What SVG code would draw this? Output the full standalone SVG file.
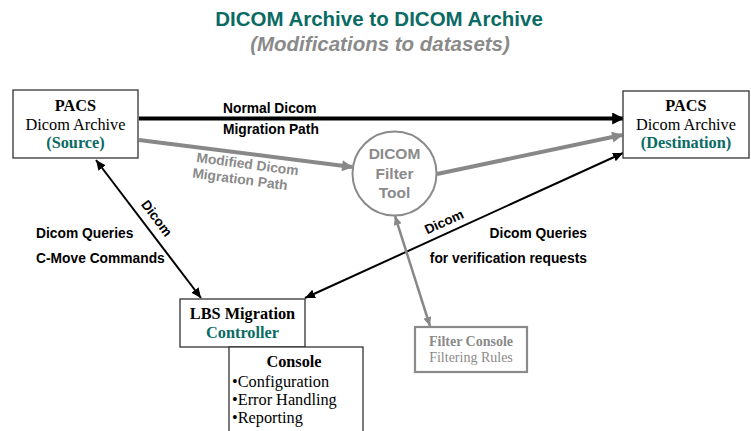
<svg xmlns="http://www.w3.org/2000/svg" width="751" height="431" viewBox="0 0 751 431">
<style>
.box{fill:#fff;stroke:#333;stroke-width:1.3}
.tnr{font-family:"Liberation Serif",serif;text-anchor:middle}
.b{font-weight:bold}
.teal{fill:#0a6b64}
.ar{font-family:"Liberation Sans",Arial,sans-serif;font-weight:bold}
.gray{fill:#8a8a8a}
</style>
<defs>
<marker id="ak" viewBox="0 0 10 10" refX="10" refY="5" markerWidth="10" markerHeight="10" markerUnits="userSpaceOnUse" orient="auto-start-reverse"><path d="M0,0.5 L10,5 L0,9.5 Z" fill="#000"/></marker>
<marker id="akb" viewBox="0 0 10 10" refX="9" refY="5" markerWidth="14" markerHeight="12" markerUnits="userSpaceOnUse" orient="auto"><path d="M0,0 L10,5 L0,10 Z" fill="#000"/></marker>
<marker id="ag" viewBox="0 0 10 10" refX="9" refY="5" markerWidth="13" markerHeight="11" markerUnits="userSpaceOnUse" orient="auto"><path d="M0,0 L10,5 L0,10 Z" fill="#888"/></marker>
<marker id="ag2" viewBox="0 0 10 10" refX="10" refY="5" markerWidth="9" markerHeight="9" markerUnits="userSpaceOnUse" orient="auto-start-reverse"><path d="M0,0.5 L10,5 L0,9.5 Z" fill="#888"/></marker>
</defs>
<g id="title">
<text x="379" y="26" font-family="Liberation Sans,Arial,sans-serif" font-weight="bold" font-size="20.5" fill="#0a6b64" text-anchor="middle">DICOM Archive to DICOM Archive</text>
<text x="380" y="51" font-family="Liberation Sans,Arial,sans-serif" font-weight="bold" font-style="italic" font-size="20.5" fill="#8a8a8a" text-anchor="middle">(Modifications to datasets)</text>
</g>
<g id="connectors">
<line x1="139" y1="118.5" x2="623" y2="118.5" stroke="#000" stroke-width="4" marker-end="url(#akb)"/>
<line x1="139" y1="140" x2="352" y2="167" stroke="#888" stroke-width="4" marker-end="url(#ag)"/>
<line x1="437" y1="174" x2="622" y2="135" stroke="#888" stroke-width="4" marker-end="url(#ag)"/>
<line x1="96" y1="160" x2="201" y2="298" stroke="#000" stroke-width="2" marker-start="url(#ak)" marker-end="url(#ak)"/>
<line x1="305" y1="298" x2="623" y2="153" stroke="#000" stroke-width="2" marker-start="url(#ak)" marker-end="url(#ak)"/>
<line x1="395" y1="216" x2="430" y2="326" stroke="#888" stroke-width="2.5" marker-start="url(#ag2)" marker-end="url(#ag2)"/>
<text class="ar" x="223" y="113" font-size="13.8">Normal Dicom</text>
<text class="ar" x="223" y="134" font-size="13.8">Migration Path</text>
<g transform="translate(196,162) rotate(7.5)"><text class="ar gray" x="0" y="0" font-size="13.8">Modified Dicom</text><text class="ar gray" x="-2" y="16" font-size="13.8">Migration Path</text></g>
<text class="ar" transform="translate(153,221) rotate(53)" text-anchor="middle" font-size="13.5">Dicom</text>
<text class="ar" transform="translate(446,226) rotate(-24.5)" text-anchor="middle" font-size="13.5">Dicom</text>
<text class="ar" x="36" y="238" font-size="13.8">Dicom Queries</text>
<text class="ar" x="36" y="263" font-size="13.8">C-Move Commands</text>
<text class="ar" x="587" y="238" font-size="13.8" text-anchor="end">Dicom Queries</text>
<text class="ar" x="587" y="263" font-size="13.8" text-anchor="end">for verification requests</text>
</g>
<g id="source">
<rect class="box" x="13" y="90" width="125" height="68"/>
<text class="tnr b" x="75.5" y="111" font-size="16.3">PACS</text>
<text class="tnr" x="75.5" y="130" font-size="16.3">Dicom Archive</text>
<text class="tnr b teal" x="75.5" y="148" font-size="16.3">(Source)</text>
</g>
<g id="destination">
<rect class="box" x="623" y="91" width="126" height="67"/>
<text class="tnr b" x="686" y="111" font-size="16.3">PACS</text>
<text class="tnr" x="686" y="130" font-size="16.3">Dicom Archive</text>
<text class="tnr b teal" x="686" y="148" font-size="16.3">(Destination)</text>
</g>
<g id="filter-tool">
<circle cx="394.5" cy="173.5" r="42" fill="#fff" stroke="#8a8a8a" stroke-width="2"/>
<text class="ar gray" x="394.5" y="159" font-size="15.5" text-anchor="middle">DICOM</text>
<text class="ar gray" x="394.5" y="179" font-size="15.5" text-anchor="middle">Filter</text>
<text class="ar gray" x="394.5" y="198" font-size="15.5" text-anchor="middle">Tool</text>
</g>
<g id="lbs-controller">
<rect class="box" x="180" y="299" width="125" height="48"/>
<text class="tnr b" x="242.5" y="319" font-size="16.3">LBS Migration</text>
<text class="tnr b teal" x="242.5" y="338" font-size="16.3">Controller</text>
</g>
<g id="console">
<rect class="box" x="229" y="347" width="134" height="90"/>
<text class="tnr b" x="294" y="367" font-size="16.3">Console</text>
<text x="232" y="387" font-family="Liberation Serif,serif" font-size="16.3">•Configuration</text>
<text x="232" y="405" font-family="Liberation Serif,serif" font-size="16.3">•Error Handling</text>
<text x="232" y="423" font-family="Liberation Serif,serif" font-size="16.3">•Reporting</text>
</g>
<g id="filter-console">
<rect x="415" y="327" width="112" height="45" fill="#fff" stroke="#8a8a8a" stroke-width="2.2"/>
<text x="471" y="346" font-family="Liberation Serif,serif" font-weight="bold" font-size="14" fill="#8a8a8a" text-anchor="middle">Filter Console</text>
<text x="471" y="362" font-family="Liberation Serif,serif" font-size="14" fill="#8a8a8a" text-anchor="middle">Filtering Rules</text>
</g>
</svg>
